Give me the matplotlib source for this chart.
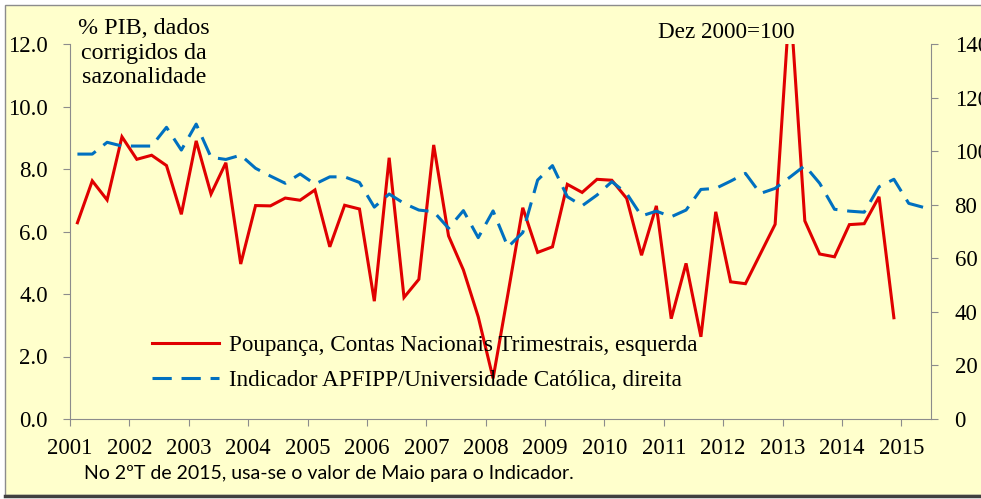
import numpy as np
import pandas as pd
import matplotlib

matplotlib.use("Agg")
import matplotlib.pyplot as plt
from matplotlib.patches import Rectangle
from matplotlib.lines import Line2D

# quarterly data, 2001Q1 onwards
poupanca = [
    6.28, 7.62, 7.01, 9.03,
    8.31, 8.44, 8.11, 6.55,
    8.90, 7.20, 8.20, 4.96,
    6.83, 6.82, 7.07, 7.00,
    7.33, 5.51, 6.84, 6.72,
    3.77, 8.36, 3.89, 4.47,
    8.77, 5.86, 4.77, 3.27,
    1.30, 4.00, 6.76, 5.33,
    5.51, 7.51, 7.25, 7.67,
    7.64, 7.06, 5.24, 6.82,
    3.21, 4.98, 2.63, 6.63,
    4.39, 4.33, 5.28, 6.23,
    13.5, 6.34, 5.28, 5.19,
    6.22, 6.25, 7.11, 3.24,
]
indicador = [
    98.9, 98.9, 103.3, 101.9,
    101.9, 101.9, 108.9, 100.4,
    110.1, 97.7, 96.9, 98.5,
    93.6, 90.7, 88.0, 91.5,
    87.7, 90.4, 90.4, 88.3,
    79.1, 84.0, 80.5, 78.0,
    77.4, 71.2, 77.8, 67.7,
    77.7, 64.2, 69.6, 89.2,
    94.6, 83.0, 79.6, 83.6,
    88.6, 84.2, 75.8, 77.6,
    75.5, 78.0, 85.7, 86.1,
    88.8, 91.7, 84.2, 86.1,
    90.3, 94.6, 88.0, 78.3,
    77.6, 77.2, 86.7, 89.5,
    80.5, 79.0,
]
years = list(range(2001, 2016))
left_ticks = [0, 2, 4, 6, 8, 10, 12]
right_ticks = [0, 20, 40, 60, 80, 100, 120, 140]

label_poup = "Poupança, Contas Nacionais Trimestrais, esquerda"
label_ind = "Indicador APFIPP/Universidade Católica, direita"

q_ind = pd.period_range("2001Q1", periods=len(indicador), freq="Q")
q_poup = q_ind[: len(poupanca)]


def qpos(periods):
    return np.array([p.year + (p.quarter - 0.5) / 4 for p in periods])


bg = "#FFFFCC"
red = "#E00000"
blue = "#0070C0"
grey = "#8C8C8C"
serif = ["Liberation Serif", "DejaVu Serif"]

plt.rcParams["font.family"] = serif
plt.rcParams["font.size"] = 16

fig = plt.figure(figsize=(9.81, 4.99), dpi=100, facecolor="white")
W, H = 981, 499

# chart frame
fig.patches.append(Rectangle((5 / W, 4 / H), 1.0, 490 / H, transform=fig.transFigure,
                             facecolor=bg, edgecolor=grey, lw=1.0, zorder=-2))
fig.lines.append(Line2D([5 / W, 1.0], [3 / H, 3 / H], transform=fig.transFigure,
                        color="#404040", lw=2.5))

ax = fig.add_axes([70 / W, 80 / H, 861 / W, 375 / H])
ax.set_facecolor("none")
ax2 = ax.twinx()
ax2.set_facecolor("none")

l1, = ax.plot(qpos(q_poup), poupanca, color=red, lw=2.2, solid_joinstyle="miter",
              label=label_poup)
l2, = ax2.plot(qpos(q_ind), indicador, color=blue, lw=2.2, dashes=(6.3, 3.2),
               label=label_ind)

ax.set_xlim(2001, 2015.5)
ax.set_ylim(0, 12)
ax2.set_ylim(0, 140)
ax.set_xticks(years)
ax.set_xticklabels([str(y) for y in years])
ax.set_yticks(left_ticks)
ax.set_yticklabels([f"{v:.1f}" for v in left_ticks])
ax2.set_yticks(right_ticks)
ax2.set_yticklabels([str(v) for v in right_ticks])

for a in (ax, ax2):
    a.spines["top"].set_visible(False)
    for s in ("left", "right", "bottom"):
        a.spines[s].set_color(grey)
ax.spines["right"].set_visible(False)
ax2.spines["left"].set_visible(False)
ax2.spines["bottom"].set_visible(False)

ax.tick_params(axis="y", direction="out", length=5, color=grey, pad=11, labelsize=16.5)
ax.tick_params(axis="x", direction="out", length=5, color=grey, pad=9, labelsize=16.5)
ax2.tick_params(axis="y", direction="out", length=5, color=grey, pad=12, labelsize=16.5)

ax2.legend(handles=[l1, l2], loc="lower left", bbox_to_anchor=(0.095, 0.075),
           frameon=False, fontsize=16.7, handlelength=2.9, handletextpad=0.45,
           labelspacing=0.6, borderpad=0, borderaxespad=0)

fig.text(144 / W, 1 - 53 / H, "% PIB, dados\ncorrigidos da\nsazonalidade",
         ha="center", va="center", multialignment="center", linespacing=1.2, fontsize=17.3)
fig.text(658 / W, 1 - 33 / H, "Dez 2000=100", ha="left", va="center", fontsize=16.7)
fig.text(84 / W, 1 - 474 / H, "No 2ºT de 2015, usa-se o valor de Maio para o Indicador.",
         ha="left", va="center", fontsize=14, family=["Lato", "DejaVu Sans"])

fig.savefig("out.png", dpi=100, facecolor=fig.get_facecolor())
